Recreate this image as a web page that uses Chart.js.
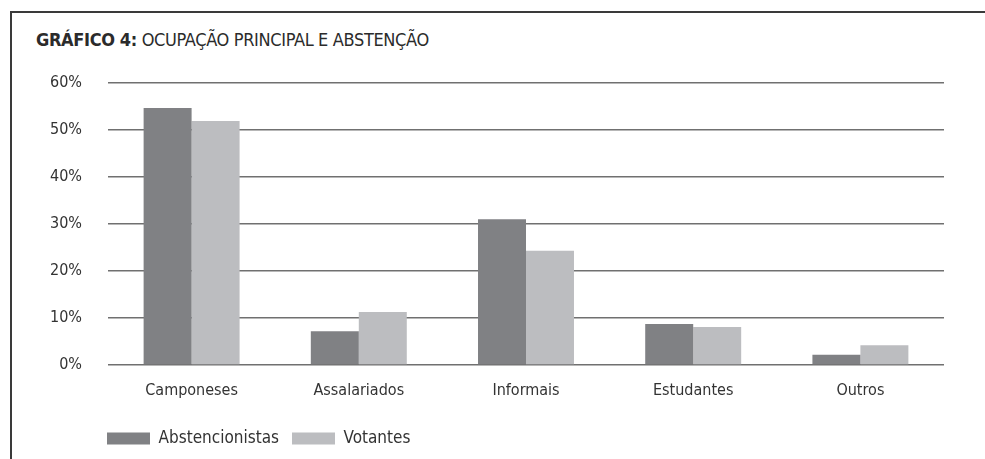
<!DOCTYPE html>
<html>
<head>
<meta charset="utf-8">
<script src="https://cdn.jsdelivr.net/npm/chart.js@4/dist/chart.umd.min.js"></script>
<style>
  html, body { margin: 0; padding: 0; background: #fff; }
  #wrap { position: relative; width: 985px; height: 459px; overflow: hidden; }
  #frame { position: absolute; left: 10px; top: 11px; width: 980px; height: 460px;
           border-top: 2px solid #3a3a3a; border-left: 2px solid #3a3a3a; box-sizing: border-box; }
  #title { position: absolute; left: 36px; top: 29px; font-family: 'DejaVu Sans Condensed', 'DejaVu Sans', sans-serif;
           font-size: 18px; color: #2b2b2b; white-space: nowrap; letter-spacing: -0.35px; }
  #title b { font-weight: bold; }
  canvas { position: absolute; left: 0; top: 0; }
</style>
</head>
<body>
<div id="wrap">
  <div id="frame"></div>
  <div id="title"><b>GRÁFICO 4:</b> OCUPAÇÃO PRINCIPAL E ABSTENÇÃO</div>
  <canvas id="c" width="985" height="459"></canvas>
</div>
<script>
const categories = ['Camponeses', 'Assalariados', 'Informais', 'Estudantes', 'Outros'];
const abstencionistas = [54.7, 7.2, 31.0, 8.7, 2.2];
const votantes = [51.9, 11.3, 24.3, 8.1, 4.2];
const yTicks = [0, 10, 20, 30, 40, 50, 60];

const FONT = "'DejaVu Sans Condensed', 'DejaVu Sans', sans-serif";
const TEXT = '#333333';

const shiftLegend = {
  id: 'shiftLegend',
  afterLayout(chart) {
    const lg = chart.legend;
    if (lg) { lg.left += 94; lg.right += 94; lg.top -= 2; lg.bottom -= 2; }
  }
};

new Chart(document.getElementById('c'), {
  type: 'bar',
  data: {
    labels: categories,
    datasets: [
      { label: 'Abstencionistas', data: abstencionistas, backgroundColor: '#808184', borderWidth: 0 },
      { label: 'Votantes', data: votantes, backgroundColor: '#bcbdc0', borderWidth: 0 }
    ]
  },
  options: {
    responsive: false,
    animation: false,
    layout: { padding: { left: 0, right: 41, top: 83, bottom: 0 } },
    datasets: { bar: { categoryPercentage: 0.574, barPercentage: 1.0 } },
    scales: {
      x: {
        grid: { display: false, drawTicks: false },
        border: { display: false },
        ticks: { color: TEXT, font: { family: FONT, size: 16 }, padding: 16 },
        afterFit(scale) { scale.height = 54; }
      },
      y: {
        min: 0, max: 60,
        afterBuildTicks(scale) { scale.ticks = yTicks.map(v => ({ value: v })); },
        grid: { color: '#707070', lineWidth: 1.5, drawTicks: false },
        border: { display: false },
        ticks: { color: TEXT, font: { family: FONT, size: 16 }, padding: 26,
                 callback: v => v + '%' },
        afterFit(scale) { scale.width = 108; }
      }
    },
    plugins: {
      title: { display: false },
      tooltip: { enabled: false },
      legend: {
        position: 'bottom',
        align: 'start',
        labels: { color: TEXT, font: { family: FONT, size: 17 }, boxWidth: 43, boxHeight: 12, padding: 13 }
      }
    }
  },
  plugins: [shiftLegend]
});
</script>
</body>
</html>
